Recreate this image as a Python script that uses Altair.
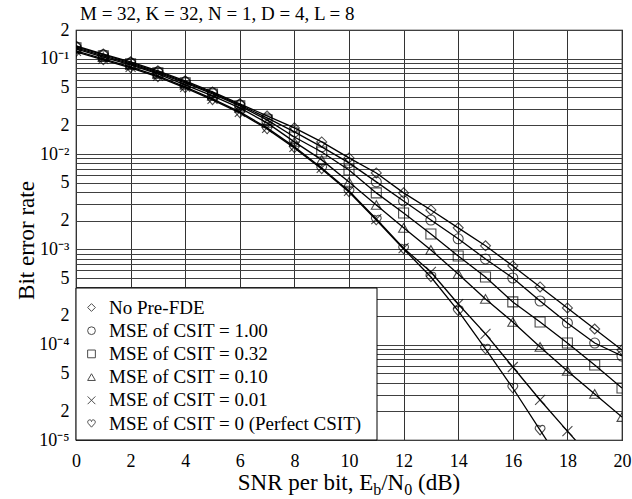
import altair as alt
import pandas as pd

FONT = "Liberation Serif"

# ---------------- data ----------------
snr_db = list(range(21))

series_names = [
    "No Pre-FDE",
    "MSE of CSIT = 1.00",
    "MSE of CSIT = 0.32",
    "MSE of CSIT = 0.10",
    "MSE of CSIT = 0.01",
    "MSE of CSIT = 0 (Perfect CSIT)",
]

ber_no_prefde = [0.136, 0.112, 0.0926, 0.0745, 0.0585, 0.0448, 0.0336, 0.0251, 0.0188, 0.0134,
                 9.10e-3, 6.33e-3, 3.91e-3, 2.59e-3, 1.68e-3, 1.09e-3, 6.70e-4, 4.03e-4,
                 2.43e-4, 1.46e-4, 8.80e-5]
ber_mse_100 = [0.133, 0.110, 0.0904, 0.0727, 0.0571, 0.0438, 0.0328, 0.0239, 0.0171, 0.0119,
               8.07e-3, 5.10e-3, 3.22e-3, 2.03e-3, 1.29e-3, 7.93e-4, 5.01e-4, 2.87e-4,
               1.69e-4, 1.04e-4, 7.61e-5]
ber_mse_032 = [0.130, 0.107, 0.0882, 0.0710, 0.0557, 0.0427, 0.0320, 0.0228, 0.0151, 0.0105,
               6.81e-3, 3.91e-3, 2.41e-3, 1.45e-3, 8.52e-4, 5.13e-4, 2.81e-4, 1.73e-4,
               1.04e-4, 6.12e-5, 3.51e-5]
ber_mse_010 = [0.127, 0.104, 0.0861, 0.0693, 0.0531, 0.0407, 0.0305, 0.0212, 0.0134, 8.68e-3,
               5.10e-3, 2.92e-3, 1.68e-3, 9.86e-4, 5.52e-4, 3.02e-4, 1.73e-4, 9.46e-5,
               5.30e-5, 3.04e-5, 1.74e-5]
ber_mse_001 = [0.121, 0.0995, 0.0820, 0.0660, 0.0506, 0.0379, 0.0277, 0.0188, 0.0119, 7.15e-3,
               4.10e-3, 2.08e-3, 1.03e-3, 5.79e-4, 2.67e-4, 1.30e-4, 5.83e-5, 2.63e-5,
               1.24e-5, 5.9e-6]
ber_perfect = [0.118, 0.0971, 0.0801, 0.0644, 0.0494, 0.0370, 0.0270, 0.0183, 0.0116, 6.98e-3,
               4.00e-3, 2.03e-3, 1.01e-3, 5.13e-4, 2.26e-4, 9.01e-5, 3.51e-5, 1.27e-5, 4.6e-6]

all_series = [ber_no_prefde, ber_mse_100, ber_mse_032, ber_mse_010, ber_mse_001, ber_perfect]

x_tick_values = [0, 2, 4, 6, 8, 10, 12, 14, 16, 18, 20]

y_grid_values = [1e-5, 2e-5, 3e-5, 4e-5, 5e-5, 6e-5, 7e-5, 8e-5, 9e-5,
                 1e-4, 2e-4, 3e-4, 4e-4, 5e-4, 6e-4, 7e-4, 8e-4, 9e-4,
                 1e-3, 2e-3, 3e-3, 4e-3, 5e-3, 6e-3, 7e-3, 8e-3, 9e-3,
                 1e-2, 2e-2, 3e-2, 4e-2, 5e-2, 6e-2, 7e-2, 8e-2, 9e-2,
                 1e-1, 2e-1]
y_label_values = [2e-1, 1e-1, 5e-2, 2e-2, 1e-2, 5e-3, 2e-3, 1e-3, 5e-4, 2e-4, 1e-4, 5e-5, 2e-5, 1e-5]
y_label_texts = ["2", "10\u207b\u00b9", "5", "2", "10\u207b\u00b2", "5", "2", "10\u207b\u00b3",
                 "5", "2", "10\u207b\u2074", "5", "2", "10\u207b\u2075"]

title_text = "M = 32, K = 32, N = 1, D = 4, L = 8"

# ---------------- table ----------------
rows = []
for name, vals in zip(series_names, all_series):
    for s, b in zip(snr_db, vals):
        rows.append({"series": name, "snr": s, "ber": b})
df = pd.DataFrame(rows)

X_PATH = "M-1,-1L1,1M-1,1L1,-1"
HEART_PATH = ("M0,0.95L-0.82,0.02C-1.15,-0.35 -0.95,-0.95 -0.45,-0.95"
              "C-0.18,-0.95 0,-0.72 0,-0.5C0,-0.72 0.18,-0.95 0.45,-0.95"
              "C0.95,-0.95 1.15,-0.35 0.82,0.02Z")
shape_range = ["diamond", "circle", "square", "triangle-up", X_PATH, HEART_PATH]

label_expr = ""
for v, t in zip(y_label_values, y_label_texts):
    label_expr += f"abs(datum.value - {v}) < {v * 1e-3} ? '{t}' : "
label_expr += "''"

W, H = 546, 410

x_enc = alt.X(
    "snr:Q",
    scale=alt.Scale(domain=[0, 20], nice=False, zero=False),
    axis=alt.Axis(values=x_tick_values, title=None, grid=True, ticks=False, domain=False,
                  labelFont=FONT, labelFontSize=18, labelColor="black", labelPadding=12,
                  gridColor="#333333", gridWidth=1, labelOverlap=False, labelFlush=False),
)
y_enc = alt.Y(
    "ber:Q",
    scale=alt.Scale(type="log", domain=[1e-5, 0.2], nice=False),
    axis=alt.Axis(values=y_grid_values, labelExpr=label_expr, title="Bit error rate",
                  grid=True, ticks=False, domain=False, labelOverlap=False, labelFlush=False,
                  labelFont=FONT, labelFontSize=18, labelColor="black", labelPadding=7,
                  gridColor="#404040", gridWidth=1,
                  titleFont=FONT, titleFontSize=23, titleFontWeight="normal", titleColor="black",
                  titleX=-50, titleY=210, titleAngle=-90, titleAlign="center",
                  titleBaseline="middle"),
)

base = alt.Chart(df)

lines = base.mark_line(color="black", strokeWidth=1.3, clip=True).encode(
    x=x_enc, y=y_enc, detail="series:N"
)

points = base.mark_point(color="black", filled=False, size=100, strokeWidth=1.1, clip=True).encode(
    x=x_enc,
    y=y_enc,
    shape=alt.Shape(
        "series:N",
        sort=series_names,
        scale=alt.Scale(domain=series_names, range=shape_range),
        legend=alt.Legend(
            title=None, orient="none", legendX=6, legendY=268, zindex=1,
            labelFont=FONT, labelFontSize=19, labelColor="black", labelLimit=500,
            labelOffset=8, rowPadding=3.2, padding=0,
            symbolSize=60, symbolStrokeWidth=1, symbolStrokeColor="black",
            symbolFillColor="transparent",
        ),
    ),
)

box_df = pd.DataFrame({"k": [0]})
legend_box = alt.Chart(box_df).mark_rect(fill="white", stroke="black", strokeWidth=1).encode(
    x=alt.value(0), x2=alt.value(301), y=alt.value(258), y2=alt.value(410)
)

txt = dict(font=FONT, color="black", align="left", baseline="alphabetic")
title_mark = alt.Chart(box_df).mark_text(fontSize=19, **txt).encode(
    x=alt.value(4), y=alt.value(-10), text=alt.value(title_text)
)

xt_y = 460
xt_sub = 465
x0 = 161.8
xt1 = alt.Chart(box_df).mark_text(fontSize=23, **txt).encode(
    x=alt.value(x0), y=alt.value(xt_y), text=alt.value("SNR per bit, E"))
xt2 = alt.Chart(box_df).mark_text(fontSize=16, **txt).encode(
    x=alt.value(x0 + 135.4), y=alt.value(xt_sub), text=alt.value("b"))
xt3 = alt.Chart(box_df).mark_text(fontSize=23, **txt).encode(
    x=alt.value(x0 + 143.4), y=alt.value(xt_y), text=alt.value("/N"))
xt4 = alt.Chart(box_df).mark_text(fontSize=16, **txt).encode(
    x=alt.value(x0 + 166.4), y=alt.value(xt_sub), text=alt.value("0"))
xt5 = alt.Chart(box_df).mark_text(fontSize=23, **txt).encode(
    x=alt.value(x0 + 180.2), y=alt.value(xt_y), text=alt.value("(dB)"))

chart = alt.layer(lines, points, legend_box, title_mark, xt1, xt2, xt3, xt4, xt5).properties(
    width=W, height=H,
    autosize=alt.AutoSizeParams(type="none"),
    padding={"left": 76, "top": 30, "right": 10, "bottom": 59},
    background="white",
).configure_view(stroke="black", strokeWidth=1.2)

chart.save("out.html", embed_options={"renderer": "svg", "actions": False})
